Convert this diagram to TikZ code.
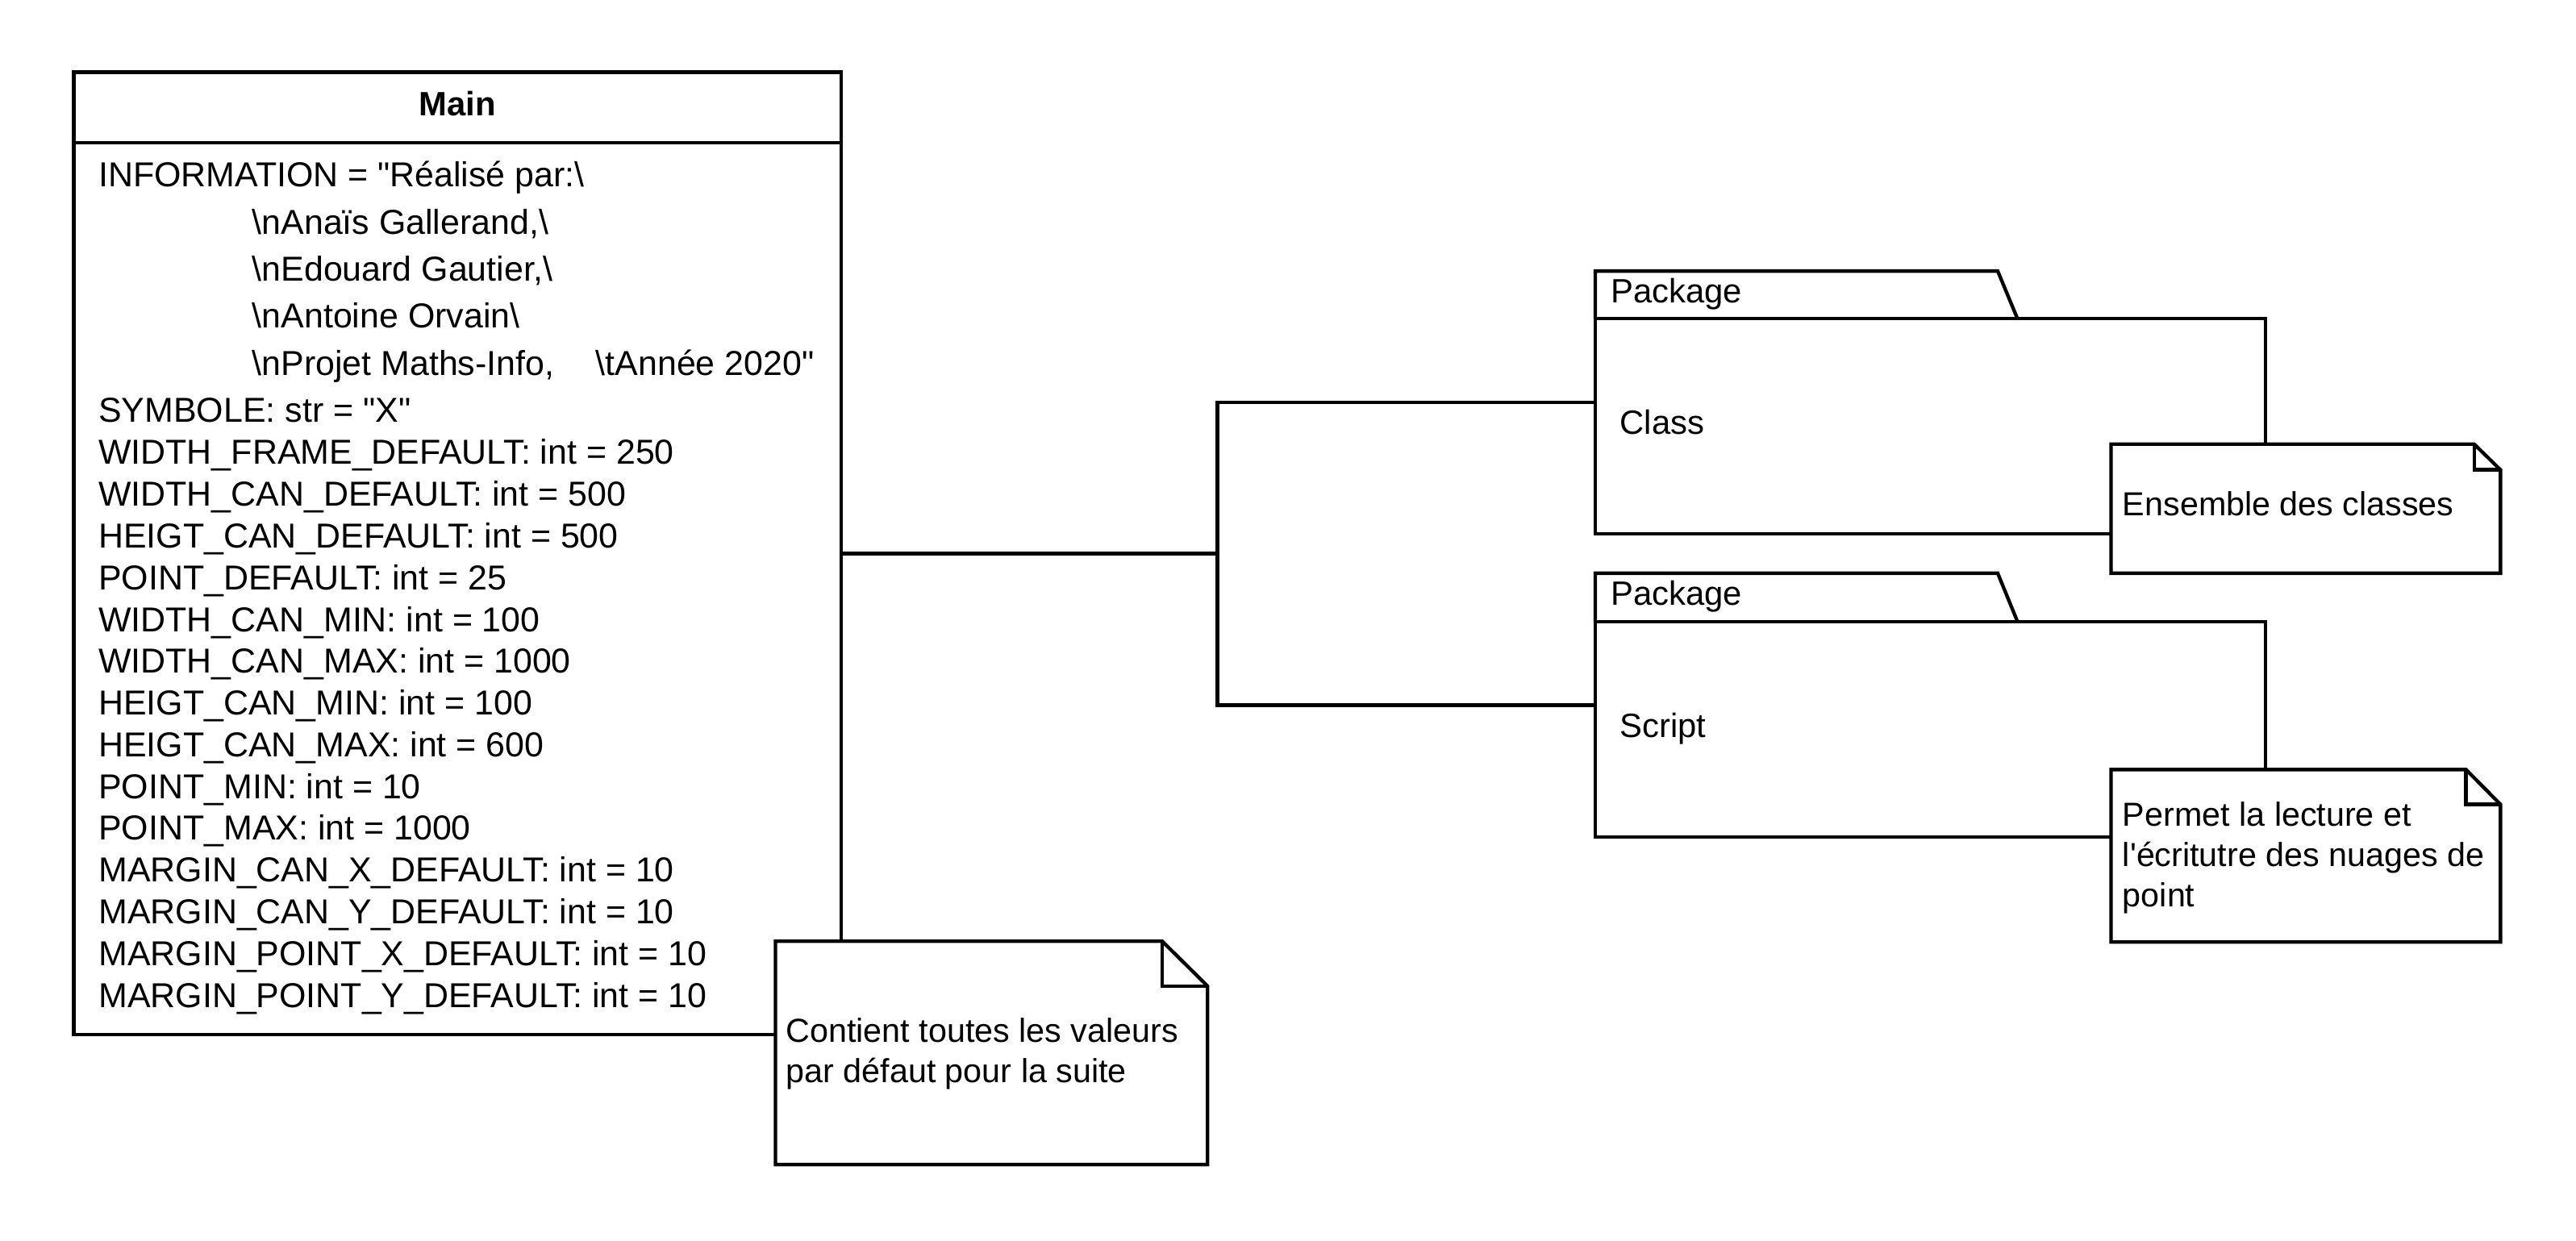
\documentclass[tikz,border=0pt]{standalone}
\usepackage{fontspec}
\setmainfont{Liberation Sans}[Ligatures=TeXOff]
\usetikzlibrary{fit}

\begin{document}
\begin{tikzpicture}[x=0.75pt,y=0.75pt,yscale=-1,xscale=1,line width=1.6pt,
  txt/.style={anchor=base west,inner sep=0pt,font=\fontsize{15.4}{18.3}\selectfont},
  attr/.style={txt,font=\fontsize{15.8}{18.3}\selectfont},
  notetxt/.style={anchor=north west,inner sep=0pt,align=left,font=\fontsize{15.2}{18.3}\selectfont}]
\useasboundingbox (0,0) rectangle (1568,755.5);

%Shape: Class [Main]
\node[draw,fit={(45,44) (512,630)},inner sep=0pt] (main) {};
%Straight Lines
\draw   (45,87) -- (512,87) ;

% Text Node
\node[inner sep=0pt,font=\bfseries\fontsize{15.4}{18.3}\selectfont] (maintitle) at (278.5,63) {Main};
% Text Node
\node[attr] (info) at (59,113.7) {INFORMATION = "Réalisé par:\textbackslash};
\node[attr] (infoa) at (152.5,142.4) {\textbackslash nAnaïs Gallerand,\textbackslash};
\node[attr] (infob) at (152.5,171.1) {\textbackslash nEdouard Gautier,\textbackslash};
\node[attr] (infoc) at (152.5,199.8) {\textbackslash nAntoine Orvain\textbackslash};
\node[attr] (infod) at (152.5,228.5) {\textbackslash nProjet Maths-Info,\hspace*{19pt}\textbackslash tAnnée 2020"};
% Text Node
\node[attr] (symbole) at (59,257.2) {SYMBOLE: str = "X"};
\node[attr] (widthframe) at (59,282.6) {WIDTH\_FRAME\_DEFAULT: int = 250};
\node[attr] (widthcan) at (59,308.1) {WIDTH\_CAN\_DEFAULT: int = 500};
\node[attr] (heigtcan) at (59,333.5) {HEIGT\_CAN\_DEFAULT: int = 500};
\node[attr] (pointdef) at (59,358.9) {POINT\_DEFAULT: int = 25};
\node[attr] (widthmin) at (59,384.4) {WIDTH\_CAN\_MIN: int = 100};
\node[attr] (widthmax) at (59,409.8) {WIDTH\_CAN\_MAX: int = 1000};
\node[attr] (heigtmin) at (59,435.2) {HEIGT\_CAN\_MIN: int = 100};
\node[attr] (heigtmax) at (59,460.6) {HEIGT\_CAN\_MAX: int = 600};
\node[attr] (pointmin) at (59,486.1) {POINT\_MIN: int = 10};
\node[attr] (pointmax) at (59,511.5) {POINT\_MAX: int = 1000};
\node[attr] (margincanx) at (59,536.9) {MARGIN\_CAN\_X\_DEFAULT: int = 10};
\node[attr] (margincany) at (59,562.4) {MARGIN\_CAN\_Y\_DEFAULT: int = 10};
\node[attr] (marginptx) at (59,587.8) {MARGIN\_POINT\_X\_DEFAULT: int = 10};
\node[attr] (marginpty) at (59,613.2) {MARGIN\_POINT\_Y\_DEFAULT: int = 10};

%Shape: Package [Class]
\node[fit={(971,165) (1379,325)},inner sep=0pt] (pkgclass) {};
\draw   (971,194) -- (971,165) -- (1216,165) -- (1228,194) ;
\draw   (971,194) rectangle (1379,325) ;
% Text Node
\node[txt] (pkgclasstab) at (979.5,184.3) {Package};
\node[txt] (pkgclassname) at (985,264.3) {Class};

%Shape: Package [Script]
\node[fit={(971,349) (1379,509.5)},inner sep=0pt] (pkgscript) {};
\draw   (971,378.4) -- (971,349) -- (1216,349) -- (1228,378.4) ;
\draw   (971,378.4) rectangle (1379,509.5) ;
% Text Node
\node[txt] (pkgscripttab) at (979.5,368.3) {Package};
\node[txt] (pkgscriptname) at (985,449.1) {Script};

%Shape: Note [Class]
\draw[fill=white]   (1285,270.4) -- (1506,270.4) -- (1522,286) -- (1522,349) -- (1285,349) -- cycle ;
\draw   (1506,270.4) -- (1506,286) -- (1522,286) ;
% Text Node
\node[txt,font=\fontsize{15.2}{18.3}\selectfont] (noteclass) at (1291,314) {Ensemble des classes};

%Shape: Note [Script]
\draw[fill=white]   (1285,468.5) -- (1501,468.5) -- (1522,489.7) -- (1522,573.5) -- (1285,573.5) -- cycle ;
\draw   (1501,468.5) -- (1501,489.7) -- (1522,489.7) ;
% Text Node
\node[notetxt] (notescript) at (1291,487.3) {Permet la lecture et\\l'écritutre des nuages de\\point};

%Shape: Note [Main]
\draw[fill=white]   (472,573) -- (707.4,573) -- (735,600.3) -- (735,709) -- (472,709) -- cycle ;
\draw   (707.4,573) -- (707.4,600.3) -- (735,600.3) ;
% Text Node
\node[notetxt] (notemain) at (477.4,618.8) {Contient toutes les valeurs\\par défaut pour la suite};

%Connectors
\coordinate (junc) at (741,337);
\draw   (main.east) -- (junc) |- (pkgclass.west) ;
\draw   (junc) |- (pkgscript.west) ;

\end{tikzpicture}
\end{document}
